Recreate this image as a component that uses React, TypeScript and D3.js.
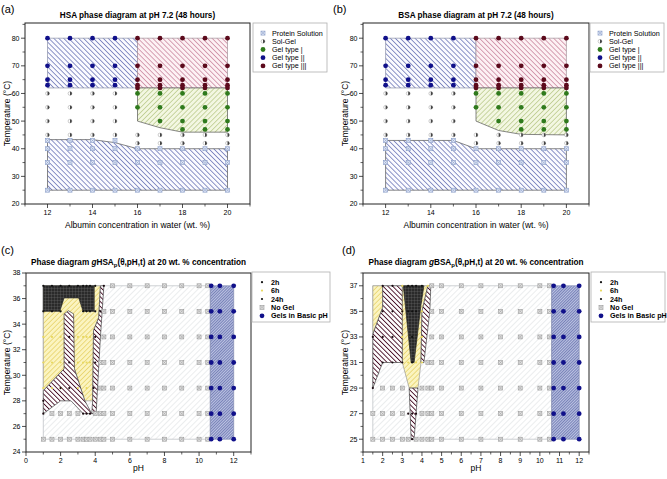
import * as d3 from 'd3';
import React from 'react';

type Pt = [number, number];
type Row = [number, number[]];

// ---------- (a) HSA / (b) BSA phase diagrams at pH 7.2 ----------
const lowConc = [12, 13, 14, 15];
const highConc = [16, 17, 18, 19, 20];
const allConc = [12, 13, 14, 15, 16, 17, 18, 19, 20];
const gel2Temps = [80, 70, 65, 63];
const gel3Temps = [80, 70, 65, 63, 62];
const solGelLowTemps = [60, 55, 50, 45];
const solGelHighTemps = [45, 42];
const solutionTemps = [40, 35, 25];
const solutionLowTemps = [43];
const gel1Rows: Row[] = [
  [16, [60, 55]],
  [17, [60, 55, 50]],
  [18, [60, 55, 50, 47]],
  [19, [60, 55, 50, 47]],
  [20, [60, 55, 50, 47]],
];

const hsaGel2Region: Pt[] = [[12, 80], [16, 80], [16, 62], [12, 62]];
const hsaGel3Region: Pt[] = [[16, 80], [20, 80], [20, 62], [16, 62]];
const hsaGel1Region: Pt[] = [[16, 62], [20, 62], [20, 46], [18, 46], [17, 47.6], [16, 50]];
const hsaSolRegion: Pt[] = [[12, 43.3], [14, 43.3], [15, 42.2], [16, 40], [20, 40], [20, 25], [12, 25]];
const bsaGel1Region: Pt[] = [[16, 62], [20, 62], [20, 45], [18, 45.2], [17, 46.6], [16, 50]];
const bsaSolRegion: Pt[] = [[12, 43], [15, 43], [16, 40], [20, 40], [20, 25], [12, 25]];

const concTicks = [12, 14, 16, 18, 20];
const concMinor = [11, 13, 15, 17, 19, 21];
const tempTicks = [20, 30, 40, 50, 60, 70, 80];
const tempMinor = [25, 35, 45, 55, 65, 75, 85];

// ---------- (c) gHSA / (d) gBSA at 20 wt.% ----------
const basicPH = [10.7, 11.2, 12];
const basicTemps = [25, 27, 29, 31, 33, 35, 37];

const cNoGelRows: Row[] = [
  [37, [5, 6, 7, 8, 9, 10, 10.5]],
  [35, [4.5, 5, 6, 7, 8, 9, 10, 10.5]],
  [33, [4.5, 5, 6, 7, 8, 9, 10, 10.5]],
  [31, [4.3, 4.5, 5, 6, 7, 8, 9, 10, 10.5]],
  [29, [4.3, 4.5, 5, 6, 7, 8, 9, 10, 10.5]],
  [27, [1.5, 2, 2.5, 3, 4, 4.3, 4.5, 5, 6, 7, 8, 9, 10, 10.5]],
  [25, [1, 1.5, 2, 2.5, 3, 3.3, 3.5, 3.7, 4, 4.3, 4.5, 5, 6, 7, 8, 9, 10, 10.5]],
];
const c2hRows: Row[] = [
  [37, [1, 1.5, 2, 2.5, 3, 3.3, 3.5, 3.7, 4]],
  [35, [1, 1.5, 2, 3.3, 3.5, 3.7, 4]],
];
const c6hRows: Row[] = [
  [33, [1, 1.5, 2, 3, 3.3, 3.5, 3.7]],
  [31, [1, 1.5, 2, 3, 3.3, 3.5, 3.7]],
  [29, [1, 1.5, 2, 3, 3.5]],
];
const c24hRows: Row[] = [
  [37, [4.5]],
  [35, [4.3]],
  [33, [2.5, 4]],
  [31, [2.5, 4]],
  [29, [2, 2.5, 3.9]],
  [28, [1]],
  [27, [1, 3.3, 3.5, 3.7]],
];
const cNoGelRegion: Pt[] = [[1, 37], [10.65, 37], [10.65, 25], [1, 25]];
const cBasicRegion: Pt[] = [[10.65, 37], [12, 37], [12, 25], [10.65, 25]];
const cYellowRegion: Pt[] = [[1, 28.8], [1, 37], [4.3, 37], [4.2, 34.5], [3.9, 33.5], [3.85, 28], [3.4, 28], [2.8, 30.5], [2.2, 30.5]];
const cMaroonY: Pt[] = [[1, 27], [1, 28.8], [2.2, 30.5], [2.2, 34.8], [2.45, 35.05], [2.75, 34.8], [2.8, 30.5], [3.4, 28], [3.8, 27], [3.3, 27], [2.6, 28], [2, 28]];
const cMaroonStrip: Pt[] = [[3.8, 27], [4.05, 27], [4.3, 33], [4.5, 37], [4.3, 37], [4.2, 34.5], [3.9, 33.5], [3.85, 28]];
const cBlackRegion: Pt[] = [[1, 37], [3.94, 37], [3.94, 35], [3.3, 35], [3.05, 36.05], [2.2, 36.05], [1.95, 35], [1, 35]];

const dNoGelRows: Row[] = [
  [37, [4.5, 5, 6, 7, 8, 9, 10, 10.5]],
  [35, [4.5, 5, 6, 7, 8, 9, 10, 10.5]],
  [33, [4.5, 5, 6, 7, 8, 9, 10, 10.5]],
  [31, [4.3, 4.5, 5, 6, 7, 8, 9, 10, 10.5]],
  [29, [2, 2.5, 3, 4, 4.3, 4.5, 5, 6, 7, 8, 9, 10, 10.5]],
  [27, [1.5, 2, 2.5, 3, 4, 4.3, 4.5, 5, 6, 7, 8, 9, 10, 10.5]],
  [25, [1.5, 2, 2.5, 3, 3.3, 3.7, 4, 4.3, 4.5, 5, 6, 7, 8, 9, 10, 10.5]],
];
const d2hRows: Row[] = [
  [37, [3.3, 3.5, 3.7, 4]],
  [35, [3.3, 3.5, 3.7]],
  [33, [3.5]],
  [31, [3.5]],
];
const d6hRows: Row[] = [
  [37, [3, 4.3]],
  [35, [3, 4]],
  [33, [3, 4]],
  [31, [3.3, 3.7, 4]],
];
const d24hRows: Row[] = [
  [37, [2, 2.5]],
  [35, [2, 2.5, 3]],
  [33, [1.5, 2, 2.5]],
  [31, [2, 2.5, 3]],
  [29, [1.5]],
  [27, [3.3, 3.5, 3.7]],
  [25, [3.5]],
];
const dNoGelRegion: Pt[] = [[1.5, 37], [10.6, 37], [10.6, 25], [1.5, 25]];
const dBasicRegion: Pt[] = [[10.6, 37], [12, 37], [12, 25], [10.6, 25]];
const dYellowLeft: Pt[] = [[1.5, 37], [2, 37], [2, 35.3], [1.5, 33.2]];
const dMaroonLeft: Pt[] = [[2, 37], [3, 37], [3, 31], [2, 31], [1.5, 29], [1.5, 33.2], [2, 35.3]];
const dYellowV: Pt[] = [[2.95, 37], [4.3, 37], [4.0, 35], [3.95, 31], [3.8, 29], [3.35, 29], [3, 31]];
const dMaroonRight: Pt[] = [[4.3, 37], [4.45, 37], [4.4, 35], [4.1, 31], [3.95, 31], [4.0, 35]];
const dMaroonSpike: Pt[] = [[3.35, 29], [3.8, 29], [3.6, 25], [3.45, 25]];
const dBlackRegion: Pt[] = [[3.05, 37], [4.1, 37], [3.95, 35.5], [3.6, 31], [3.45, 31], [3.15, 35.5]];

const cPHTicks = [0, 2, 4, 6, 8, 10, 12];
const cPHMinor = [1, 3, 5, 7, 9, 11, 13];
const cTTicks = [24, 26, 28, 30, 32, 34, 36, 38];
const cTMinor = [25, 27, 29, 31, 33, 35, 37];
const dPHTicks = [1, 2, 3, 4, 5, 6, 7, 8, 9, 10, 11, 12];
const dPHMinor = [1.5, 2.5, 3.5, 4.5, 5.5, 6.5, 7.5, 8.5, 9.5, 10.5, 11.5, 12.5];
const dTTicks = [25, 27, 29, 31, 33, 35, 37];
const dTMinor = [24, 26, 28, 30, 32, 34, 36, 38];

const legendAB = ['Protein Solution', 'Sol-Gel', 'Gel type |', 'Gel type ||', 'Gel type |||'];
const legendCD = ['2h', '6h', '24h', 'No Gel', 'Gels in Basic pH'];

const FONT = 'Liberation Sans, Arial, sans-serif';
const NAVY = '#10108a';
const MAROON = '#5c0a1c';
const GREEN = '#2f7a1c';

type Kind = 'square' | 'greySquare' | 'half' | 'dot' | 'small';
interface Series { pts: Pt[]; kind: Kind; color: string }
interface Region { pts: Pt[]; fill: string; stroke: string }
interface Legend { x: number; y: number; w: number; h: number; labels: string[]; kinds: Kind[]; colors: string[]; bold: boolean }
interface PanelSpec {
  tag: string; tagX: number; tagY: number;
  title: React.ReactNode; titleY: number;
  left: number; right: number; top: number; bottom: number;
  xDomain: [number, number]; yDomain: [number, number];
  xTicks: number[]; xMinor: number[]; yTicks: number[]; yMinor: number[];
  xLabel: string; xLabelY: number; yLabelX: number;
  regions: Region[]; series: Series[]; legend: Legend;
}

const grid = (xs: number[], ts: number[]): Pt[] => xs.flatMap((x) => ts.map((t) => [x, t] as Pt));
const rows = (rs: Row[]): Pt[] => rs.flatMap(([t, xs]) => xs.map((x) => [x, t] as Pt));
const cols = (rs: Row[]): Pt[] => rs.flatMap(([x, ts]) => ts.map((t) => [x, t] as Pt));

function Marker({ kind, cx, cy, color }: { kind: Kind; cx: number; cy: number; color: string }) {
  if (kind === 'square' || kind === 'greySquare') {
    const s = 2;
    const st = kind === 'square' ? '#8599c6' : '#9a9a9a';
    const fl = kind === 'square' ? '#e0e7f5' : '#e2e2e2';
    return (
      <g>
        <rect x={cx - s} y={cy - s} width={2 * s} height={2 * s} fill={fl} stroke={st} strokeWidth={0.6} />
        <path d={`M${cx - s},${cy - s}L${cx + s},${cy + s}M${cx + s},${cy - s}L${cx - s},${cy + s}`} stroke={st} strokeWidth={0.5} />
      </g>
    );
  }
  if (kind === 'half') {
    const r = 1.9;
    return (
      <g>
        <circle cx={cx} cy={cy} r={r} fill="#fff" stroke="#9a9a9a" strokeWidth={0.5} />
        <path d={`M${cx},${cy - r}A${r},${r} 0 0 1 ${cx},${cy + r}Z`} fill="#444" />
      </g>
    );
  }
  if (kind === 'small') return <circle cx={cx} cy={cy} r={1.1} fill={color} />;
  return <circle cx={cx} cy={cy} r={2.4} fill={color} />;
}

function Panel({ p }: { p: PanelSpec }) {
  const x = d3.scaleLinear().domain(p.xDomain).range([p.left, p.right]);
  const y = d3.scaleLinear().domain(p.yDomain).range([p.bottom, p.top]);
  const line = d3.line<Pt>().x((d) => x(d[0])).y((d) => y(d[1]));
  const cx = (p.left + p.right) / 2;
  const cy = (p.top + p.bottom) / 2;
  const lg = p.legend;
  const rowH = (lg.h - 8) / lg.labels.length;
  return (
    <g fontFamily={FONT}>
      <text x={p.tagX} y={p.tagY} fontSize={11}>{p.tag}</text>
      <text x={cx} y={p.titleY} fontSize={8.2} fontWeight="bold" textAnchor="middle">{p.title}</text>
      {p.regions.map((r, i) => (
        <path key={i} d={line(r.pts) + 'Z'} fill={r.fill} stroke={r.stroke} strokeWidth={0.7} />
      ))}
      {p.series.map((s, i) => (
        <g key={i}>
          {s.pts.map((d, j) => (
            <Marker key={j} kind={s.kind} cx={x(d[0])} cy={y(d[1])} color={s.color} />
          ))}
        </g>
      ))}
      <rect x={p.left} y={p.top} width={p.right - p.left} height={p.bottom - p.top} fill="none" stroke="#222" strokeWidth={1} />
      {p.xTicks.map((t) => (
        <g key={'xt' + t}>
          <line x1={x(t)} x2={x(t)} y1={p.bottom} y2={p.bottom + 4} stroke="#222" strokeWidth={0.8} />
          <text x={x(t)} y={p.bottom + 11} fontSize={7} textAnchor="middle">{t}</text>
        </g>
      ))}
      {p.xMinor.map((t) => (
        <line key={'xm' + t} x1={x(t)} x2={x(t)} y1={p.bottom} y2={p.bottom + 2.5} stroke="#222" strokeWidth={0.7} />
      ))}
      {p.yTicks.map((t) => (
        <g key={'yt' + t}>
          <line x1={p.left - 4} x2={p.left} y1={y(t)} y2={y(t)} stroke="#222" strokeWidth={0.8} />
          <text x={p.left - 5.5} y={y(t)} dy="0.35em" fontSize={7} textAnchor="end">{t}</text>
        </g>
      ))}
      {p.yMinor.map((t) => (
        <line key={'ym' + t} x1={p.left - 2.5} x2={p.left} y1={y(t)} y2={y(t)} stroke="#222" strokeWidth={0.7} />
      ))}
      <text x={cx} y={p.xLabelY} fontSize={8.5} textAnchor="middle">{p.xLabel}</text>
      <text transform={`translate(${p.yLabelX},${cy}) rotate(-90)`} fontSize={8.5} textAnchor="middle">Temperature (°C)</text>
      <rect x={lg.x} y={lg.y} width={lg.w} height={lg.h} fill="#fff" stroke="#b0b0b0" strokeWidth={0.8} />
      {lg.labels.map((l, i) => {
        const ly = lg.y + 6 + rowH * (i + 0.5);
        return (
          <g key={l}>
            <Marker kind={lg.kinds[i]} cx={lg.x + 10} cy={ly} color={lg.colors[i]} />
            <text x={lg.x + 19} y={ly} dy="0.35em" fontSize={7.2} fontWeight={lg.bold ? 'bold' : 'normal'}>{l}</text>
          </g>
        );
      })}
    </g>
  );
}

function hatch(id: string, size: number, angle: number, bg: string, stroke: string, width: number) {
  return (
    <pattern key={id} id={id} width={size} height={size} patternUnits="userSpaceOnUse" patternTransform={`rotate(${angle})`}>
      <rect width={size} height={size} fill={bg} />
      <line x1={0} y1={0} x2={0} y2={size} stroke={stroke} strokeWidth={width} />
    </pattern>
  );
}

const abSeries = (gel1: Pt[]): Series[] => [
  { pts: grid(allConc, solutionTemps).concat(grid(lowConc, solutionLowTemps)), kind: 'square', color: '' },
  { pts: grid(lowConc, solGelLowTemps).concat(grid(highConc, solGelHighTemps)), kind: 'half', color: '' },
  { pts: gel1, kind: 'dot', color: GREEN },
  { pts: grid(lowConc, gel2Temps), kind: 'dot', color: NAVY },
  { pts: grid(highConc, gel3Temps), kind: 'dot', color: MAROON },
];

const subTitle = (prot: string) => (
  <>
    Phase diagram <tspan fontStyle="italic">g</tspan>{prot}
    <tspan dy={2} fontSize={6}>p</tspan>
    <tspan dy={-2}>(θ,pH,t) at 20 wt. % concentration</tspan>
  </>
);

const legendABKinds: Kind[] = ['square', 'half', 'dot', 'dot', 'dot'];
const legendABColors = ['', '', GREEN, NAVY, MAROON];
const legendCDKinds: Kind[] = ['small', 'small', 'small', 'greySquare', 'dot'];
const legendCDColors = ['#111', '#e8d860', '#111', '', NAVY];

const panels: PanelSpec[] = [
  {
    tag: '(a)', tagX: 1, tagY: 13, title: 'HSA phase diagram at pH 7.2 (48 hours)', titleY: 18,
    left: 25, right: 250, top: 23, bottom: 204, xDomain: [11, 21], yDomain: [20, 85.5],
    xTicks: concTicks, xMinor: concMinor, yTicks: tempTicks, yMinor: tempMinor,
    xLabel: 'Albumin concentration in water (wt. %)', xLabelY: 228, yLabelX: 10,
    regions: [
      { pts: hsaGel2Region, fill: 'url(#blueH)', stroke: '#8a8fa8' },
      { pts: hsaGel3Region, fill: 'url(#redH)', stroke: '#a09098' },
      { pts: hsaGel1Region, fill: 'url(#greenH)', stroke: '#555' },
      { pts: hsaSolRegion, fill: 'url(#blueH)', stroke: '#555' },
    ],
    series: abSeries(cols(gel1Rows)),
    legend: { x: 253, y: 23, w: 74, h: 49, labels: legendAB, kinds: legendABKinds, colors: legendABColors, bold: false },
  },
  {
    tag: '(b)', tagX: 333, tagY: 13, title: 'BSA phase diagram at pH 7.2 (48 hours)', titleY: 18,
    left: 363, right: 589, top: 23, bottom: 204, xDomain: [11, 21], yDomain: [20, 85.5],
    xTicks: concTicks, xMinor: concMinor, yTicks: tempTicks, yMinor: tempMinor,
    xLabel: 'Albumin concentration in water (wt. %)', xLabelY: 228, yLabelX: 348,
    regions: [
      { pts: hsaGel2Region, fill: 'url(#blueH)', stroke: '#8a8fa8' },
      { pts: hsaGel3Region, fill: 'url(#redH)', stroke: '#a09098' },
      { pts: bsaGel1Region, fill: 'url(#greenH)', stroke: '#555' },
      { pts: bsaSolRegion, fill: 'url(#blueH)', stroke: '#555' },
    ],
    series: abSeries(cols(gel1Rows)),
    legend: { x: 590, y: 23, w: 74, h: 49, labels: legendAB, kinds: legendABKinds, colors: legendABColors, bold: false },
  },
  {
    tag: '(c)', tagX: 1, tagY: 254, title: subTitle('HSA'), titleY: 265,
    left: 26, right: 251, top: 273, bottom: 452, xDomain: [0, 13], yDomain: [24, 38],
    xTicks: cPHTicks, xMinor: cPHMinor, yTicks: cTTicks, yMinor: cTMinor,
    xLabel: 'pH', xLabelY: 471, yLabelX: 10,
    regions: [
      { pts: cNoGelRegion, fill: 'url(#greyH)', stroke: '#b8bcc0' },
      { pts: cBasicRegion, fill: 'url(#basicH)', stroke: '#8088b0' },
      { pts: cYellowRegion, fill: 'url(#yellowH)', stroke: '#999' },
      { pts: cMaroonY, fill: 'url(#maroonH)', stroke: '#444' },
      { pts: cMaroonStrip, fill: 'url(#maroonH)', stroke: '#444' },
      { pts: cBlackRegion, fill: 'url(#blackG)', stroke: '#222' },
    ],
    series: [
      { pts: rows(cNoGelRows), kind: 'greySquare', color: '' },
      { pts: rows(c6hRows), kind: 'small', color: '#e8d860' },
      { pts: rows(c24hRows), kind: 'small', color: '#1a0a10' },
      { pts: rows(c2hRows), kind: 'small', color: '#111' },
      { pts: grid(basicPH, basicTemps), kind: 'dot', color: NAVY },
    ],
    legend: { x: 252, y: 272, w: 78, h: 50, labels: legendCD, kinds: legendCDKinds, colors: legendCDColors, bold: true },
  },
  {
    tag: '(d)', tagX: 342, tagY: 254, title: subTitle('BSA'), titleY: 265,
    left: 363, right: 589, top: 273, bottom: 452, xDomain: [1, 12.5], yDomain: [24, 38],
    xTicks: dPHTicks, xMinor: dPHMinor, yTicks: dTTicks, yMinor: dTMinor,
    xLabel: 'pH', xLabelY: 471, yLabelX: 348,
    regions: [
      { pts: dNoGelRegion, fill: 'url(#greyH)', stroke: '#b8bcc0' },
      { pts: dBasicRegion, fill: 'url(#basicH)', stroke: '#8088b0' },
      { pts: dYellowLeft, fill: 'url(#yellowH)', stroke: '#999' },
      { pts: dYellowV, fill: 'url(#yellowH)', stroke: '#999' },
      { pts: dMaroonLeft, fill: 'url(#maroonH)', stroke: '#444' },
      { pts: dMaroonRight, fill: 'url(#maroonH)', stroke: '#444' },
      { pts: dMaroonSpike, fill: 'url(#maroonH)', stroke: '#444' },
      { pts: dBlackRegion, fill: 'url(#blackG)', stroke: '#222' },
    ],
    series: [
      { pts: rows(dNoGelRows), kind: 'greySquare', color: '' },
      { pts: rows(d6hRows), kind: 'small', color: '#e8d860' },
      { pts: rows(d24hRows), kind: 'small', color: '#1a0a10' },
      { pts: rows(d2hRows), kind: 'small', color: '#111' },
      { pts: grid(basicPH, basicTemps), kind: 'dot', color: NAVY },
    ],
    legend: { x: 591, y: 272, w: 74, h: 50, labels: legendCD, kinds: legendCDKinds, colors: legendCDColors, bold: true },
  },
];

export default function App() {
  return (
    <svg width={667} height={479} style={{ position: 'absolute', left: 0, top: 0, background: '#fff' }}>
      <defs>
        {hatch('blueH', 3.5, -45, '#fbfbff', '#33419a', 1.1)}
        {hatch('redH', 3.5, -45, '#fdf1f4', '#b05072', 1.0)}
        {hatch('greenH', 3.5, 45, '#f3f7e2', '#94ab50', 0.9)}
        {hatch('greyH', 4, 45, '#ffffff', '#cdd2d6', 0.8)}
        {hatch('yellowH', 3.5, 45, '#fbf4c0', '#dcbf38', 1.0)}
        {hatch('maroonH', 3.4, -45, '#ffffff', '#440a22', 1.8)}
        <pattern id="basicH" width={2} height={2} patternUnits="userSpaceOnUse" patternTransform="rotate(45)">
          <rect width={2} height={2} fill="#bcc3e2" />
          <line x1={0} y1={0} x2={0} y2={2} stroke="#34428f" strokeWidth={1} />
        </pattern>
        <pattern id="blackG" width={3} height={3} patternUnits="userSpaceOnUse">
          <rect width={3} height={3} fill="#2a2a2a" />
          <path d="M0,0H3M0,0V3" stroke="#6e6e6e" strokeWidth={0.6} />
        </pattern>
      </defs>
      <rect width={667} height={479} fill="#fff" />
      {panels.map((p) => (
        <Panel key={p.tag} p={p} />
      ))}
    </svg>
  );
}
